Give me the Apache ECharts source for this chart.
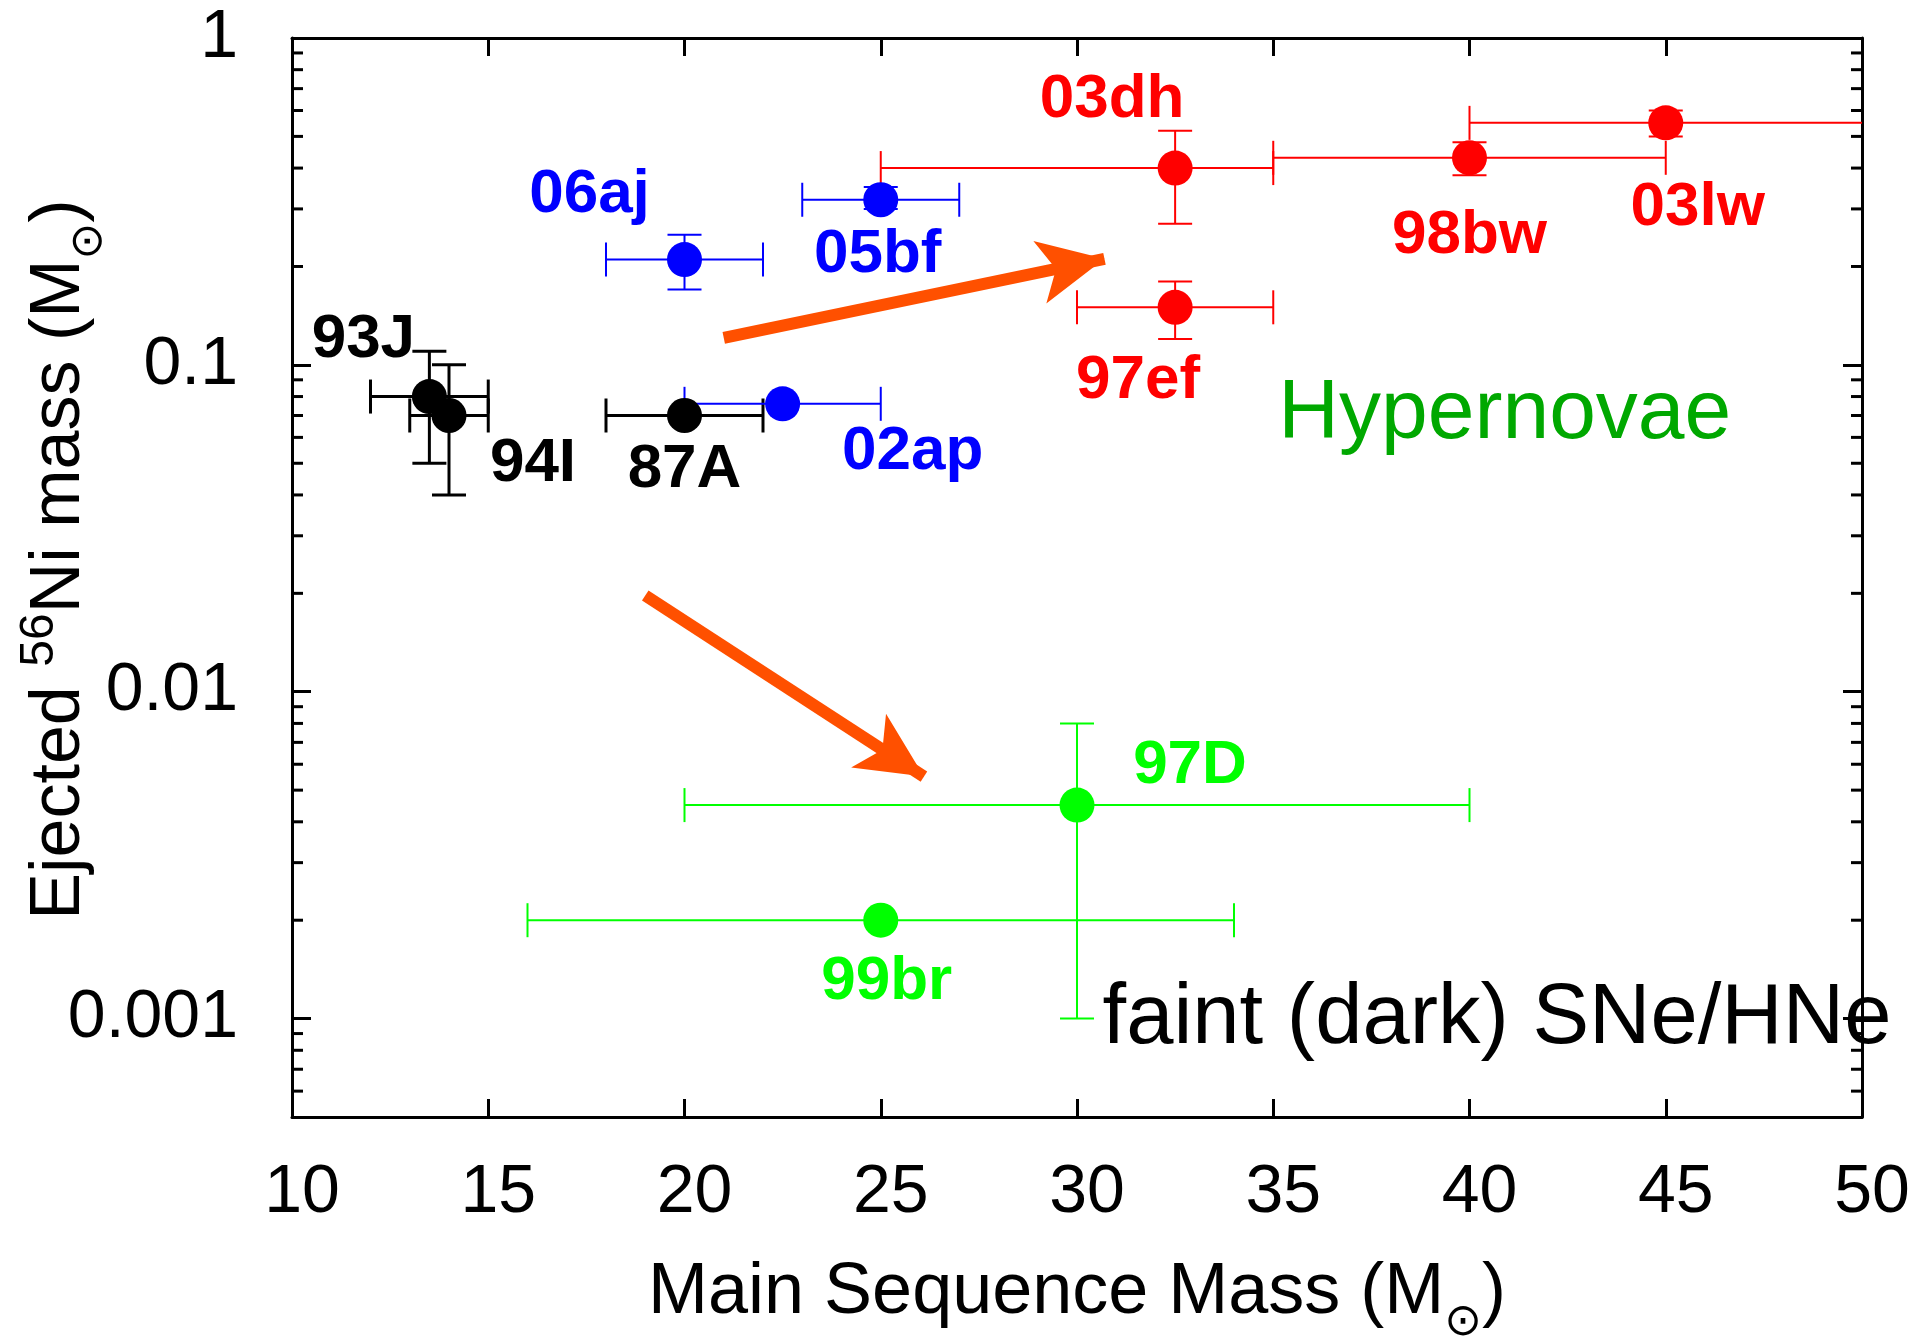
<!DOCTYPE html>
<html>
<head>
<meta charset="utf-8">
<script src="https://cdn.jsdelivr.net/npm/echarts@6/dist/echarts.min.js"></script>
<style>
html, body { margin: 0; padding: 0; background: #fff; }
#container { width: 1915px; height: 1341px; }
</style>
</head>
<body>
<div id="container"></div>
<script>
// each row: name, main sequence mass, Ni mass, mass low, mass high, Ni low, Ni high
var blackPoints = [
    ['93J', 13.5, 0.08, 12, 15, 0.05, 0.11],
    ['94I', 14, 0.07, 13, 15, 0.04, 0.10],
    ['87A', 20, 0.07, 18, 22, null, null]
];
var bluePoints = [
    ['06aj', 20, 0.21, 18, 22, 0.17, 0.25],
    ['05bf', 25, 0.32, 23, 27, 0.30, 0.35],
    ['02ap', 22.5, 0.076, 20, 25, null, null]
];
var redPoints = [
    ['03dh', 32.5, 0.40, 25, 35, 0.27, 0.52],
    ['97ef', 32.5, 0.15, 30, 35, 0.12, 0.18],
    ['98bw', 40, 0.43, 35, 45, 0.38, 0.48],
    ['03lw', 45, 0.55, 40, 55, 0.50, 0.60]
];
var greenPoints = [
    ['97D', 30, 0.0045, 20, 40, 0.001, 0.008],
    ['99br', 25, 0.002, 16, 34, null, null]
];
var xTicks = [10, 15, 20, 25, 30, 35, 40, 45, 50];
var yTickValues = [0.001, 0.01, 0.1, 1];
var yTickLabels = ['0.001', '0.01', '0.1', '1'];
var yMinorTicks = [0.0006, 0.0007, 0.0008, 0.0009,
    0.002, 0.003, 0.004, 0.005, 0.006, 0.007, 0.008, 0.009,
    0.02, 0.03, 0.04, 0.05, 0.06, 0.07, 0.08, 0.09,
    0.2, 0.3, 0.4, 0.5, 0.6, 0.7, 0.8, 0.9];
// arrows: from [mass, Ni] to [mass, Ni]
var arrows = [
    [[21, 0.121], [30.7, 0.211]],
    [[19, 0.0197], [26.1, 0.0055]]
];
// big text notes: text, mass, Ni
var notes = [
    ['Hypernovae', 40.9, 0.0703],
    ['faint (dark) SNe/HNe', 40.7, 0.000993]
];

var labelOffsets = {
    '93J': [-66, -57], '94I': [84, 48], '87A': [0, 54],
    '06aj': [-95, -65], '05bf': [-3, 55], '02ap': [130, 48],
    '03dh': [-63, -68], '98bw': [0, 78], '03lw': [32, 85], '97ef': [-37, 74],
    '97D': [113, -39], '99br': [6, 62]
};
var noteStyles = {
    'Hypernovae': { color: '#00a800', fontSize: 84 },
    'faint (dark) SNe/HNe': { color: '#000', fontSize: 85 }
};

var FONT = 'Liberation Sans, Arial, sans-serif';

function errorBars(points, color, width) {
    return {
        type: 'custom',
        silent: true,
        data: points.map(function (p) { return [p[1], p[2]]; }),
        renderItem: function (params, api) {
            var p = points[params.dataIndex];
            var cs = params.coordSys;
            var c = api.coord([p[1], p[2]]);
            var cap = 17;
            var st = { stroke: color, lineWidth: width };
            var kids = [];
            if (p[3] != null) {
                var l = api.coord([p[3], p[2]])[0];
                var r = api.coord([p[4], p[2]])[0];
                var right = cs.x + cs.width;
                var rClip = r > right;
                if (rClip) r = right;
                kids.push({ type: 'line', shape: { x1: l, y1: c[1], x2: r, y2: c[1] }, style: st });
                kids.push({ type: 'line', shape: { x1: l, y1: c[1] - cap, x2: l, y2: c[1] + cap }, style: st });
                if (!rClip) kids.push({ type: 'line', shape: { x1: r, y1: c[1] - cap, x2: r, y2: c[1] + cap }, style: st });
            }
            if (p[5] != null) {
                var lo = api.coord([p[1], p[5]])[1];
                var hi = api.coord([p[1], p[6]])[1];
                kids.push({ type: 'line', shape: { x1: c[0], y1: lo, x2: c[0], y2: hi }, style: st });
                kids.push({ type: 'line', shape: { x1: c[0] - cap, y1: lo, x2: c[0] + cap, y2: lo }, style: st });
                kids.push({ type: 'line', shape: { x1: c[0] - cap, y1: hi, x2: c[0] + cap, y2: hi }, style: st });
            }
            return { type: 'group', children: kids };
        }
    };
}

function markers(points, color) {
    return {
        type: 'scatter',
        symbol: 'circle',
        symbolSize: 35,
        itemStyle: { color: color, opacity: 1 },
        data: points.map(function (p) {
            return {
                name: p[0],
                value: [p[1], p[2]],
                label: {
                    show: true,
                    position: 'inside',
                    offset: labelOffsets[p[0]],
                    formatter: p[0],
                    color: color,
                    fontFamily: FONT,
                    fontWeight: 'bold',
                    fontSize: 62
                }
            };
        })
    };
}

var minorTickSeries = {
    type: 'custom',
    silent: true,
    data: yMinorTicks.map(function (v) { return [10, v]; }),
    renderItem: function (params, api) {
        var cs = params.coordSys;
        var y = api.coord([10, yMinorTicks[params.dataIndex]])[1];
        var st = { stroke: '#000', lineWidth: 3 };
        return {
            type: 'group',
            children: [
                { type: 'line', shape: { x1: cs.x, y1: y, x2: cs.x + 11, y2: y }, style: st },
                { type: 'line', shape: { x1: cs.x + cs.width - 11, y1: y, x2: cs.x + cs.width, y2: y }, style: st }
            ]
        };
    }
};

var notesSeries = {
    type: 'scatter',
    symbolSize: 1,
    itemStyle: { color: 'transparent', opacity: 1 },
    silent: true,
    data: notes.map(function (n) {
        return {
            name: n[0],
            value: [n[1], n[2]],
            label: {
                show: true,
                position: 'inside',
                formatter: n[0],
                color: noteStyles[n[0]].color,
                fontSize: noteStyles[n[0]].fontSize,
                fontFamily: FONT
            }
        };
    }),
    markLine: {
        silent: true,
        symbol: ['none', 'arrow'],
        symbolSize: [48, 66],
        label: { show: false },
        lineStyle: { color: '#ff5000', width: 12, type: 'solid', opacity: 1 },
        data: arrows.map(function (a) {
            return [{ coord: a[0] }, { coord: a[1] }];
        })
    }
};

function yLabel(v) {
    for (var i = 0; i < yTickValues.length; i++) {
        if (Math.abs(Math.log10(v) - Math.log10(yTickValues[i])) < 1e-6) return yTickLabels[i];
    }
    return '';
}

var axisLineStyle = { lineStyle: { color: '#000', width: 3 } };

var dom = document.getElementById('container');
var myChart = echarts.init(dom);
var option = {
    animation: false,
    backgroundColor: '#fff',
    grid: { left: 292, top: 38, width: 1570, height: 1079, containLabel: false, outerBoundsMode: 'none' },
    xAxis: [{
        type: 'value',
        min: xTicks[0],
        max: xTicks[xTicks.length - 1],
        interval: 5,
        axisLine: axisLineStyle,
        axisTick: { inside: true, length: 18, lineStyle: { width: 3, color: '#000' } },
        splitLine: { show: false },
        axisLabel: { fontSize: 68, color: '#000', fontFamily: FONT, margin: 42, padding: [0, 0, 0, 20] },
        name: '{t|Main Sequence Mass (M}{s|⊙}{t|)}',
        nameLocation: 'middle',
        nameGap: 124,
        nameMoveOverlap: false,
        nameTextStyle: {
            rich: {
                t: { fontSize: 72, fontFamily: FONT, color: '#000' },
                s: { fontSize: 45, fontFamily: 'DejaVu Sans', color: '#000', padding: [60, 0, 0, 0] }
            }
        }
    }, {
        type: 'value',
        position: 'top',
        min: xTicks[0],
        max: xTicks[xTicks.length - 1],
        interval: 5,
        axisLine: axisLineStyle,
        axisTick: { inside: true, length: 18, lineStyle: { width: 3, color: '#000' } },
        splitLine: { show: false },
        axisLabel: { show: false }
    }],
    yAxis: [{
        type: 'log',
        logBase: 10,
        min: 0.0005,
        max: 1,
        axisLine: axisLineStyle,
        axisTick: { inside: true, length: 19, lineStyle: { width: 3, color: '#000' } },
        splitLine: { show: false },
        axisLabel: {
            fontSize: 68, color: '#000', fontFamily: FONT, margin: 54,
            showMinLabel: false,
            formatter: yLabel
        },
        name: '{t|Ejected }{p|56}{t|Ni mass (M}{s|⊙}{t|)}',
        nameLocation: 'middle',
        nameGap: 180,
        nameMoveOverlap: false,
        nameTextStyle: {
            padding: [0, 0, 0, 36],
            rich: {
                t: { fontSize: 70, fontFamily: FONT, color: '#000' },
                p: { fontSize: 48, fontFamily: FONT, color: '#000', padding: [0, 0, 40, 0] },
                s: { fontSize: 44, fontFamily: 'DejaVu Sans', color: '#000', padding: [60, 0, 0, 0] }
            }
        }
    }, {
        type: 'log',
        logBase: 10,
        min: 0.0005,
        max: 1,
        position: 'right',
        axisLine: axisLineStyle,
        axisTick: { inside: true, length: 19, lineStyle: { width: 3, color: '#000' } },
        splitLine: { show: false },
        axisLabel: { show: false }
    }],
    series: [
        minorTickSeries,
        errorBars(blackPoints, '#000', 3),
        markers(blackPoints, '#000'),
        errorBars(bluePoints, '#0000ff', 2),
        markers(bluePoints, '#0000ff'),
        errorBars(redPoints, '#ff0000', 2),
        markers(redPoints, '#ff0000'),
        errorBars(greenPoints, '#00ff00', 2),
        markers(greenPoints, '#00ff00'),
        notesSeries
    ]
};
if (option && typeof option === 'object') {
    myChart.setOption(option, true);
}
</script>
</body>
</html>
